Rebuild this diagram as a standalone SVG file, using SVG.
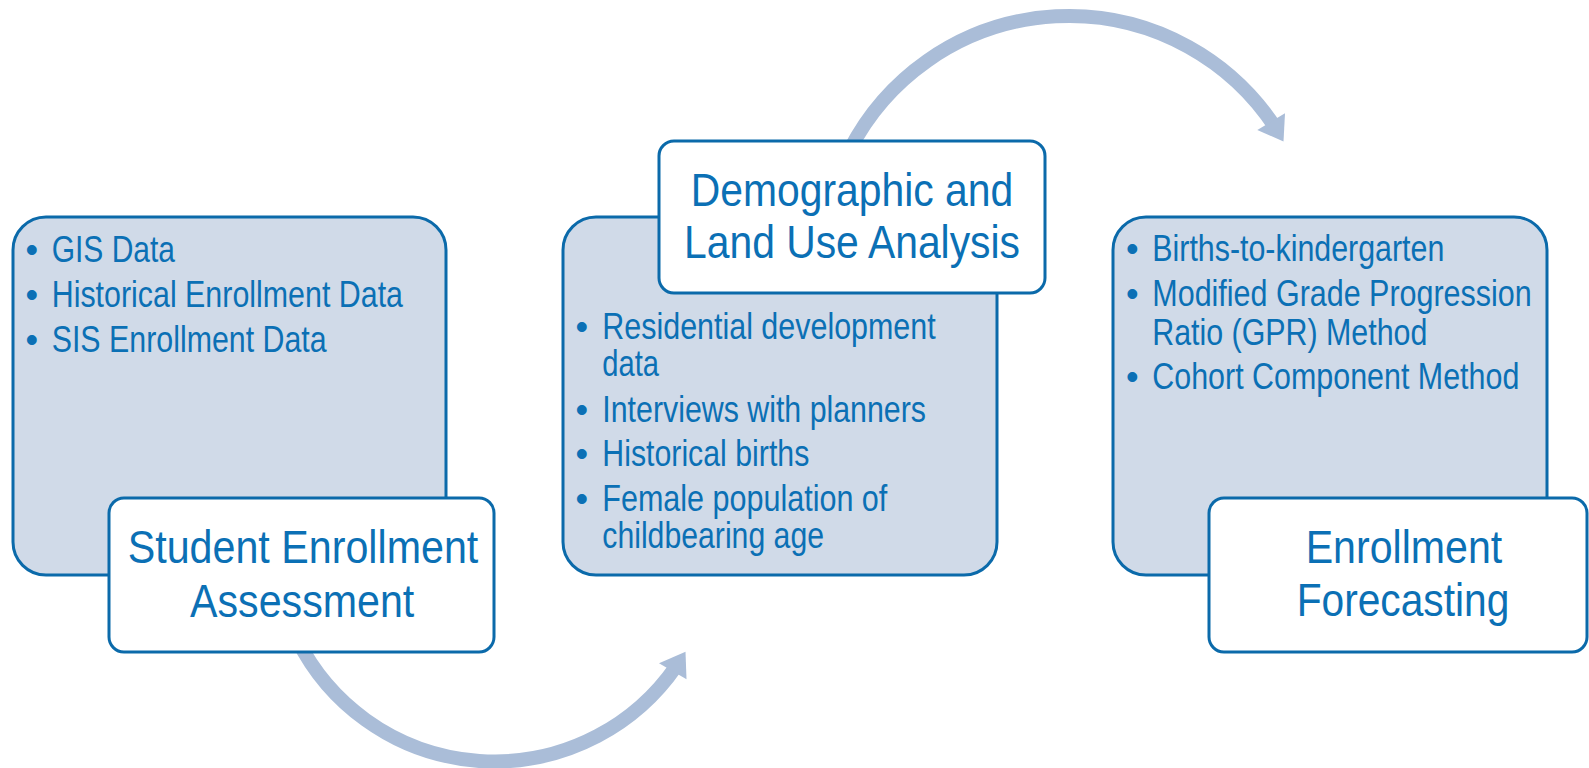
<svg xmlns="http://www.w3.org/2000/svg" width="1589" height="768" viewBox="0 0 1589 768">
<defs>
<style>
.big{fill:#D0DAE8;stroke:#0B6AAA;stroke-width:3}
.lab{fill:#FFFFFF;stroke:#0B6AAA;stroke-width:3}
.arc{fill:none;stroke:#AABDD8;stroke-width:14}
.head{fill:#AABDD8}
.t{font-family:"Liberation Sans",Arial,sans-serif;font-size:36px;fill:#0B70B5}
.b{font-family:"Liberation Sans",Arial,sans-serif;font-size:36px;fill:#0B70B5;text-anchor:middle}
.L{font-family:"Liberation Sans",Arial,sans-serif;font-size:47px;fill:#0B70B5}
</style>
</defs>
<rect width="1589" height="768" fill="#FFFFFF"/>
<g id="connectors">
<path class="arc" d="M 849.6 150 A 246.6 246.6 0 0 1 1275 127"/>
<polygon class="head" points="1257.3,130 1285,113.3 1283.5,141.5"/>
<path class="arc" d="M 297.5 640 A 220.7 220.7 0 0 0 676 666.5"/>
<polygon class="head" points="659,663.3 685.5,651.7 686.5,679.3"/>
</g>
<g id="node-student-enrollment">
<rect class="big" x="13" y="217" width="433" height="358" rx="33"/>
<text class="b" x="31.7" y="261.7">•</text>
<text class="t" x="51.7" y="261.7" textLength="123.3" lengthAdjust="spacingAndGlyphs">GIS Data</text>
<text class="b" x="31.7" y="306.7">•</text>
<text class="t" x="51.7" y="306.7" textLength="351.3" lengthAdjust="spacingAndGlyphs">Historical Enrollment Data</text>
<text class="b" x="31.7" y="351.7">•</text>
<text class="t" x="51.7" y="351.7" textLength="275" lengthAdjust="spacingAndGlyphs">SIS Enrollment Data</text>
<rect class="lab" x="109" y="498" width="385" height="154" rx="15"/>
<text class="L" x="127.7" y="563.3" textLength="350.6" lengthAdjust="spacingAndGlyphs">Student Enrollment</text>
<text class="L" x="190" y="616.7" textLength="224.3" lengthAdjust="spacingAndGlyphs">Assessment</text>
</g>
<g id="node-demographic">
<rect class="big" x="563" y="217" width="434" height="358" rx="33"/>
<text class="b" x="581.7" y="339">•</text>
<text class="t" x="602.3" y="339" textLength="333.4" lengthAdjust="spacingAndGlyphs">Residential development</text>
<text class="t" x="602.3" y="376" textLength="56.7" lengthAdjust="spacingAndGlyphs">data</text>
<text class="b" x="581.7" y="421.7">•</text>
<text class="t" x="602.3" y="421.7" textLength="323.7" lengthAdjust="spacingAndGlyphs">Interviews with planners</text>
<text class="b" x="581.7" y="466">•</text>
<text class="t" x="602.3" y="466" textLength="207" lengthAdjust="spacingAndGlyphs">Historical births</text>
<text class="b" x="581.7" y="511">•</text>
<text class="t" x="602.3" y="511" textLength="285" lengthAdjust="spacingAndGlyphs">Female population of</text>
<text class="t" x="602.3" y="548.3" textLength="221.7" lengthAdjust="spacingAndGlyphs">childbearing age</text>
<rect class="lab" x="659" y="141" width="386" height="152" rx="15"/>
<text class="L" x="690.7" y="206" textLength="322.6" lengthAdjust="spacingAndGlyphs">Demographic and</text>
<text class="L" x="684" y="258.3" textLength="336" lengthAdjust="spacingAndGlyphs">Land Use Analysis</text>
</g>
<g id="node-forecasting">
<rect class="big" x="1113" y="217" width="434" height="358" rx="33"/>
<text class="b" x="1132.3" y="261">•</text>
<text class="t" x="1152.3" y="261" textLength="292" lengthAdjust="spacingAndGlyphs">Births-to-kindergarten</text>
<text class="b" x="1132.3" y="306">•</text>
<text class="t" x="1152.3" y="306" textLength="379.4" lengthAdjust="spacingAndGlyphs">Modified Grade Progression</text>
<text class="t" x="1152.3" y="345" textLength="275" lengthAdjust="spacingAndGlyphs">Ratio (GPR) Method</text>
<text class="b" x="1132.3" y="389.3">•</text>
<text class="t" x="1152.3" y="389.3" textLength="367" lengthAdjust="spacingAndGlyphs">Cohort Component Method</text>
<rect class="lab" x="1209" y="498" width="378" height="154" rx="15"/>
<text class="L" x="1305.7" y="563.3" textLength="196.6" lengthAdjust="spacingAndGlyphs">Enrollment</text>
<text class="L" x="1296.7" y="616" textLength="212.6" lengthAdjust="spacingAndGlyphs">Forecasting</text>
</g>
</svg>
